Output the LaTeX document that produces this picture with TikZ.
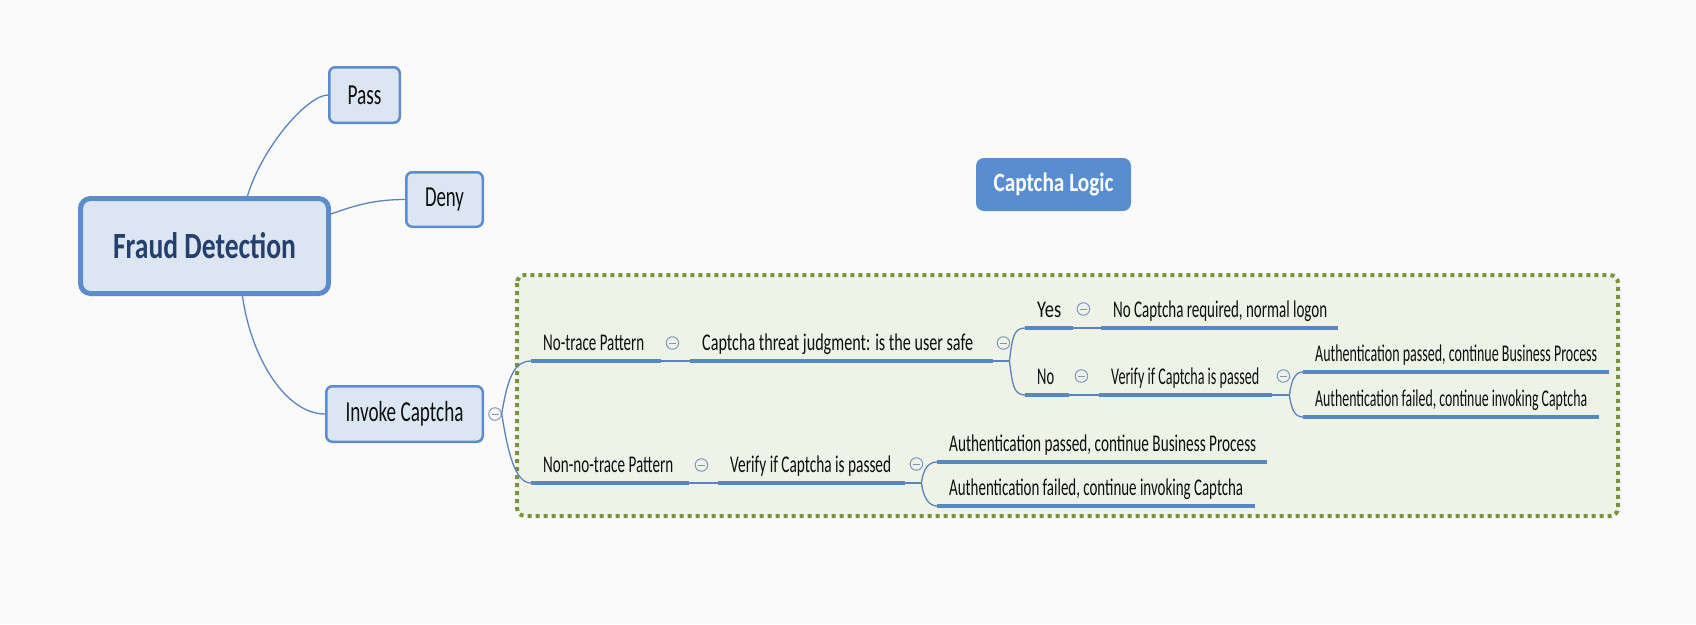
\documentclass[tikz,border=0pt]{standalone}
\usepackage{fontspec}
\setmainfont{Carlito}
\usepackage{graphicx}
\definecolor{bgc}{RGB}{250,250,250}
\definecolor{boxfill}{RGB}{220,230,242}
\definecolor{boxline}{RGB}{92,140,204}
\definecolor{fdtext}{RGB}{38,64,110}
\definecolor{capfill}{RGB}{88,141,208}
\definecolor{frameline}{RGB}{119,147,60}
\definecolor{framefill}{RGB}{239,243,231}
\definecolor{ulinec}{RGB}{88,136,196}
\definecolor{connc}{RGB}{92,132,186}
\definecolor{cgray}{RGB}{125,150,190}
\definecolor{txt}{RGB}{15,15,15}
\newcommand\fitlbl[3]{\hbox to #1pt{\resizebox{#2pt}{\height}{#3}\hss}}
\newcommand\fitw[2]{\resizebox{#1pt}{\height}{#2}}
\begin{document}
\begin{tikzpicture}[x=1pt,y=-1pt,
  bigbox/.style={draw=boxline, fill=boxfill, line width=5pt, rounded corners=10pt,
    minimum width=248pt, minimum height=95pt, inner sep=0pt,
    font=\fontsize{37}{41}\selectfont\bfseries, text=fdtext},
  smallbox/.style={draw=boxline, fill=boxfill, line width=2.5pt, rounded corners=6pt,
    inner sep=0pt, font=\fontsize{29}{33}\selectfont, text=txt},
  capbox/.style={fill=capfill, rounded corners=8pt, inner sep=0pt,
    minimum width=155pt, minimum height=53pt,
    font=\fontsize{26.5}{30}\selectfont\bfseries, text=white},
  topic/.style={anchor=south west, inner xsep=12pt, inner ysep=0pt,
    text height=16pt, text depth=10pt, font=\fontsize{24}{28}\selectfont, text=txt},
  uline/.style={draw=ulinec, line width=4pt},
  conn/.style={draw=connc, line width=1.3pt},
  collapse/.style={circle, draw=cgray, line width=1pt, minimum size=12.5pt, inner sep=0pt,
    path picture={\draw[cgray, line width=1pt]
      ([xshift=-3.5pt]path picture bounding box.center) --
      ([xshift=3.5pt]path picture bounding box.center);}},
  framebox/.style={draw=frameline, fill=framefill, line width=4pt,
    dash pattern=on 4pt off 4pt, rounded corners=8pt}
]
\fill[bgc] (0,0) rectangle (1696,624);
\useasboundingbox (0,0) rectangle (1696,624);

% left part
\node[bigbox] (fd) at (204.5,246) {\fitw{183}{Fraud Detection}};
\node[smallbox, minimum width=70.5pt, minimum height=55.5pt] (pass) at (364.5,95) {\fitw{34}{Pass}};
\node[smallbox, minimum width=76.5pt, minimum height=54.5pt] (deny) at (444.5,199.5) {\fitw{39}{Deny}};
\node[smallbox, minimum width=156.5pt, minimum height=55.5pt] (inv) at (404.5,414) {\fitw{118}{Invoke Captcha}};
\node[capbox] (cl) at (1053.5,184.5) {\fitw{120}{Captcha Logic}};

\draw[conn] ([xshift=43pt]fd.north) .. controls +(15,-50) and +(-20,0) .. (pass.west);
\draw[conn] ([yshift=32pt]fd.east) .. controls +(25,-9) and +(-30,0) .. (deny.west);
\draw[conn] ([xshift=38pt]fd.south) .. controls +(8,60) and +(-40,0) .. (inv.west);

% frame
\draw[framebox] (517,275) rectangle (1618,516);

% topics
\node[topic] (nt) at (531,361) {\fitlbl{106}{101}{No-trace Pattern}};
\node[topic] (ct) at (690,361) {\fitlbl{279}{271}{Captcha threat judgment: is the user safe}};
\node[topic] (yes) at (1025,328) {\fitlbl{24}{24}{Yes}};
\node[topic] (nocap) at (1101,328) {\fitlbl{213}{214}{No Captcha required, normal logon}};
\node[topic] (no) at (1025,395) {\fitlbl{20}{17}{No}};
\node[topic] (ver) at (1099,395) {\fitlbl{149}{148}{Verify if Captcha is passed}};
\node[topic] (ap) at (1303,372) {\fitlbl{282}{282}{Authentication passed, continue Business Process}};
\node[topic] (af) at (1303,417) {\fitlbl{272}{272}{Authentication failed, continue invoking Captcha}};
\node[topic] (nnt) at (531,483) {\fitlbl{134}{130}{Non-no-trace Pattern}};
\node[topic] (ver2) at (718,483) {\fitlbl{163}{161}{Verify if Captcha is passed}};
\node[topic] (ap2) at (937,462) {\fitlbl{306}{307}{Authentication passed, continue Business Process}};
\node[topic] (af2) at (937,506) {\fitlbl{294}{294}{Authentication failed, continue invoking Captcha}};

\foreach \n in {nt,ct,yes,nocap,no,ver,ap,af,nnt,ver2,ap2,af2}
  \draw[uline] (\n.south west) -- (\n.south east);

% collapse markers
\node[collapse] (cinv) at ([xshift=11pt]inv.east) {};
\node[collapse] (cnt) at ([shift={(11,-18)}]nt.south east) {};
\node[collapse] (cct) at ([shift={(10,-18)}]ct.south east) {};
\node[collapse] (cyes) at ([shift={(10,-19)}]yes.south east) {};
\node[collapse] (cno) at ([shift={(12,-19)}]no.south east) {};
\node[collapse] (cver) at ([shift={(11,-19)}]ver.south east) {};
\node[collapse] (cnnt) at ([shift={(12,-18)}]nnt.south east) {};
\node[collapse] (cver2) at ([shift={(11,-19)}]ver2.south east) {};

% connectors
\draw[conn] (cinv.east) .. controls +(6,-38) and +(-16,0) .. (nt.south west);
\draw[conn] (cinv.east) .. controls +(6,38) and +(-16,0) .. (nnt.south west);
\draw[conn] (nt.south east) -- (ct.south west);
\draw[conn] (nnt.south east) -- (ver2.south west);
\draw[conn] (yes.south east) -- (nocap.south west);
\draw[conn] (no.south east) -- (ver.south west);

\coordinate (jct) at ([xshift=16pt]ct.south east);
\draw[conn] (ct.south east) -- (jct);
\draw[conn] (jct) .. controls +(3,-22) and +(-12,0) .. (yes.south west);
\draw[conn] (jct) .. controls +(3,22) and +(-12,0) .. (no.south west);

\coordinate (jver) at ([xshift=17pt]ver.south east);
\draw[conn] (ver.south east) -- (jver);
\draw[conn] (jver) .. controls +(2,-15) and +(-8,0) .. (ap.south west);
\draw[conn] (jver) .. controls +(2,15) and +(-8,0) .. (af.south west);

\coordinate (jver2) at ([xshift=16pt]ver2.south east);
\draw[conn] (ver2.south east) -- (jver2);
\draw[conn] (jver2) .. controls +(2,-15) and +(-8,0) .. (ap2.south west);
\draw[conn] (jver2) .. controls +(2,15) and +(-8,0) .. (af2.south west);
\end{tikzpicture}
\end{document}
